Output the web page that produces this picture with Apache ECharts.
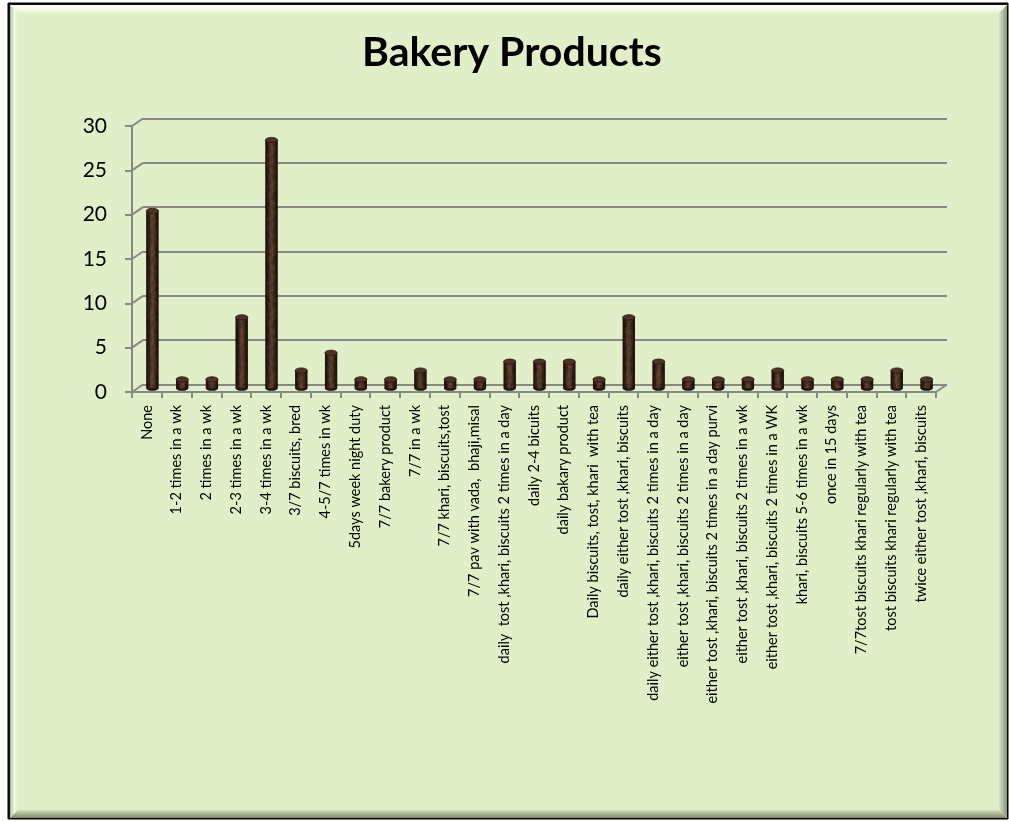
<!DOCTYPE html>
<html>
<head>
<meta charset="utf-8">
<title>Bakery Products</title>
<script src="https://cdn.jsdelivr.net/npm/echarts@6/dist/echarts.min.js"></script>
<style>
  html, body { margin: 0; padding: 0; background: #ffffff; }
  #chart { width: 1009px; height: 822px; }
</style>
</head>
<body>
<div id="chart"></div>
<script>
// Survey answers: how often bakery products are eaten
const categories = [
  'None',
  '1-2 times in a wk',
  '2 times in a wk',
  '2-3 times in a wk',
  '3-4 times in a wk',
  '3/7 biscuits, bred',
  '4-5/7 times in wk',
  '5days week night duty',
  '7/7 bakery product',
  '7/7 in a wk',
  '7/7 khari, biscuits,tost',
  '7/7 pav with vada,  bhaji,misal',
  'daily  tost ,khari, biscuits 2 times in a day',
  'daily 2-4 bicuits',
  'daily bakary product',
  'Daily biscuits, tost, khari  with tea',
  'daily either tost ,khari, biscuits',
  'daily either tost ,khari, biscuits 2 times in a day',
  'either tost ,khari, biscuits 2 times in a day',
  'either tost ,khari, biscuits 2 times in a day purvi',
  'either tost ,khari, biscuits 2 times in a wk',
  'either tost ,khari, biscuits 2 times in a WK',
  'khari, biscuits 5-6 times in a wk',
  'once in 15 days',
  '7/7tost biscuits khari regularly with tea',
  'tost biscuits khari regularly with tea',
  'twice either tost ,khari, biscuits'
];
const counts = [20, 1, 1, 8, 28, 2, 4, 1, 1, 2, 1, 1, 3, 3, 3, 1, 8, 3, 1, 1, 1, 2, 1, 1, 1, 2, 1];
const yTicks = [0, 5, 10, 15, 20, 25, 30];

// Pseudo-3D layout: the front plane holds the axes, the back wall is shifted by the depth
const FRONT = { left: 132, top: 126, width: 804, height: 266 };
const DEPTH_X = 11, DEPTH_Y = 7.5;
const GRID_COLOR = '#888888';
const FONT = 'Lato, "Open Sans", sans-serif';

const chart = echarts.init(document.getElementById('chart'), null, { renderer: 'canvas' });

function shifted(f) {
  return { left: FRONT.left + DEPTH_X * f, top: FRONT.top - DEPTH_Y * f, width: FRONT.width, height: FRONT.height };
}

function lin(x2, y2, stops) {
  return new echarts.graphic.LinearGradient(0, 0, x2, y2, stops.map((c, i) => ({ offset: i / (stops.length - 1), color: c })));
}

// Mottled brown surface for the columns (smooth sine-based marbling)
function makeWoodTexture() {
  const c = document.createElement('canvas');
  c.width = 32; c.height = 64;
  const ctx = c.getContext('2d');
  const img = ctx.createImageData(c.width, c.height);
  for (let y = 0; y < c.height; y++) {
    for (let x = 0; x < c.width; x++) {
      const a = Math.sin(x * 0.55 + Math.sin(y * 0.21) * 2.3);
      const b = Math.cos(y * 0.37 + Math.sin(x * 0.31) * 1.7);
      const t = Math.sin(x * 1.3 + y * 0.9) * Math.cos(x * 0.7 - y * 1.1);
      const m = 0.5 + 0.28 * a * b + 0.22 * t;
      const k = (y * c.width + x) * 4;
      img.data[k] = 40 + 55 * m;
      img.data[k + 1] = 22 + 36 * m;
      img.data[k + 2] = 14 + 26 * m;
      img.data[k + 3] = 255;
    }
  }
  ctx.putImageData(img, 0, 0);
  return c;
}
const woodPattern = { image: makeWoodTexture(), repeat: 'repeat' };

// Bevelled frame around the chart
const L = 10, T = 5, R = 1007, B = 818, BV = 8;
const frame = [
  { type: 'rect', shape: { x: L - 2, y: T - 2, width: R - L + 3, height: B - T + 3 }, style: { fill: '#111', stroke: '#000', lineWidth: 1 }, z: -10 },
  { type: 'rect', shape: { x: L, y: T, width: R - L, height: B - T }, style: { fill: '#e1efc8' }, z: -9 },
  { type: 'polygon', shape: { points: [[L, T], [R, T], [R - BV, T + BV], [L + BV, T + BV]] }, style: { fill: lin(0, 1, ['#ffffff', '#f6fbea', '#e6f2d0']) }, z: -8 },
  { type: 'polygon', shape: { points: [[L, T], [L + BV, T + BV], [L + BV, B - BV], [L, B]] }, style: { fill: lin(1, 0, ['#aab595', '#eef7de', '#e4f1cc']) }, z: -8 },
  { type: 'polygon', shape: { points: [[L, B], [L + BV, B - BV], [R - BV, B - BV], [R, B]] }, style: { fill: lin(0, 1, ['#d3dfbc', '#a7b392', '#7c8669']) }, z: -8 },
  { type: 'polygon', shape: { points: [[R, T], [R, B], [R - BV, B - BV], [R - BV, T + BV]] }, style: { fill: lin(1, 0, ['#d8e4c1', '#b0bc9a', '#8a9478']) }, z: -8 }
];

// Cylinder column drawn at mid depth
function renderCylinder(params, api) {
  const idx = api.value(0), v = api.value(1);
  const top = api.coord([idx, v]);
  const base = api.coord([idx, 0]);
  const w = api.size([1, 0])[0] * 0.41;
  const rx = w / 2, ry = 2.6;
  const x = top[0] - rx;
  const shade = lin(1, 0, ['rgba(10,5,2,0.75)', 'rgba(10,5,2,0.25)', 'rgba(255,230,210,0.10)', 'rgba(10,5,2,0.2)', 'rgba(10,5,2,0.8)']);
  return {
    type: 'group',
    children: [
      { type: 'ellipse', shape: { cx: base[0], cy: base[1], rx: rx, ry: ry }, style: { fill: '#24140c' } },
      { type: 'rect', shape: { x: x, y: top[1], width: w, height: base[1] - top[1] }, style: { fill: woodPattern } },
      { type: 'rect', shape: { x: x, y: top[1], width: w, height: base[1] - top[1] }, style: { fill: shade } },
      { type: 'ellipse', shape: { cx: top[0], cy: top[1], rx: rx, ry: ry }, style: { fill: '#4e3224', stroke: '#2a1710', lineWidth: 0.8 } }
    ]
  };
}

// Side wall and floor edges joining the front axes to the back wall
function renderDepthEdges(params, api) {
  const v = api.value(0);
  const band = api.size([1, 0])[0];
  const p = api.coord([0, v]);
  const x0 = p[0] - band / 2;
  const children = [
    { type: 'line', shape: { x1: x0, y1: p[1], x2: x0 + DEPTH_X, y2: p[1] - DEPTH_Y }, style: { stroke: GRID_COLOR, lineWidth: 2 } }
  ];
  if (v === 0) {
    const q = api.coord([categories.length - 1, 0]);
    const x1 = q[0] + band / 2;
    children.push({ type: 'line', shape: { x1: x1, y1: q[1], x2: x1 + DEPTH_X, y2: q[1] - DEPTH_Y }, style: { stroke: GRID_COLOR, lineWidth: 2 } });
  }
  return { type: 'group', children: children };
}

const option = {
  animation: false,
  backgroundColor: '#ffffff',
  graphic: { elements: frame },
  title: {
    text: 'Bakery Products',
    left: 357,
    top: 27,
    textStyle: { fontFamily: FONT, fontSize: 41, fontWeight: 'bold', color: '#000' }
  },
  grid: [
    Object.assign({ containLabel: false }, FRONT),
    Object.assign({ containLabel: false }, shifted(1)),
    Object.assign({ containLabel: false }, shifted(0.5))
  ],
  xAxis: [
    {
      type: 'category', gridIndex: 0, data: categories,
      axisLine: { show: true, lineStyle: { color: GRID_COLOR, width: 2 } },
      axisTick: { show: true, length: 6, lineStyle: { color: GRID_COLOR, width: 2 } },
      axisLabel: { interval: 0, rotate: 90, margin: 13, color: '#000', fontFamily: FONT, fontSize: 14.5 },
      splitLine: { show: false }
    },
    { type: 'category', gridIndex: 1, data: categories, show: false },
    { type: 'category', gridIndex: 2, data: categories, show: false }
  ],
  yAxis: [
    {
      type: 'value', gridIndex: 0, min: 0, max: 30, interval: 5,
      axisLine: { show: true, lineStyle: { color: GRID_COLOR, width: 2 } },
      axisTick: { show: true, length: 7, lineStyle: { color: GRID_COLOR, width: 2 } },
      axisLabel: { margin: 25, color: '#000', fontFamily: FONT, fontSize: 21 },
      splitLine: { show: false }
    },
    {
      type: 'value', gridIndex: 1, min: 0, max: 30, interval: 5,
      axisLine: { show: false }, axisTick: { show: false }, axisLabel: { show: false },
      splitLine: { show: true, lineStyle: { color: GRID_COLOR, width: 2 } }
    },
    { type: 'value', gridIndex: 2, min: 0, max: 30, interval: 5, show: false, splitLine: { show: false } }
  ],
  series: [
    {
      type: 'custom', name: 'edges', xAxisIndex: 0, yAxisIndex: 0,
      data: yTicks.map(v => [v]), renderItem: renderDepthEdges, silent: true, z: 1
    },
    {
      type: 'custom', name: 'Bakery Products', xAxisIndex: 2, yAxisIndex: 2,
      data: counts.map((v, i) => [i, v]),
      encode: { x: 0, y: 1 },
      renderItem: renderCylinder, z: 5
    }
  ]
};
chart.setOption(option);
</script>
</body>
</html>
